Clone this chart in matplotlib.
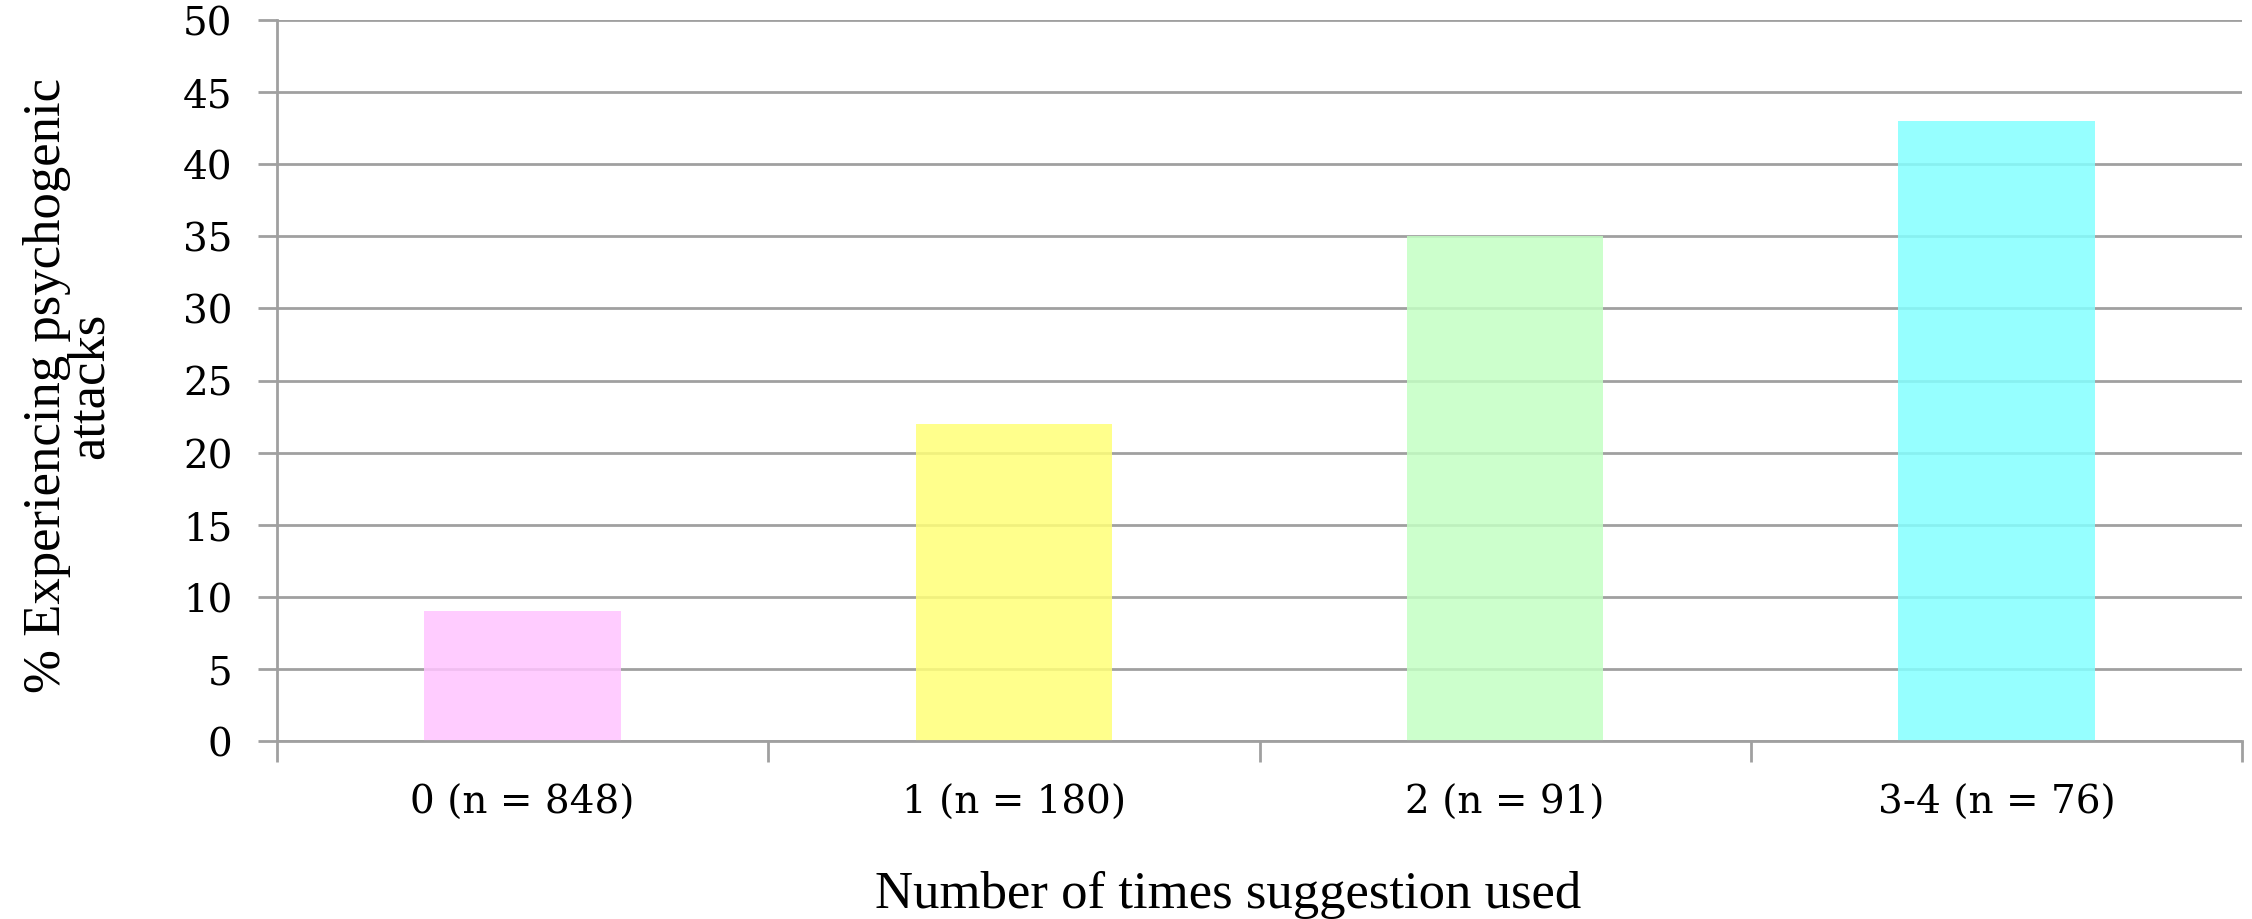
import numpy as np
import matplotlib.pyplot as plt

categories = ["0 (n = 848)", "1 (n = 180)", "2 (n = 91)", "3-4 (n = 76)"]
percent = [9, 22, 35, 43]
bar_colors = ["#FFC3FF", "#FFFF78", "#C3FFC3", "#84FFFF"]
y_ticks = list(range(0, 55, 5))

grid_col = "#A0A0A0"

fig = plt.figure(figsize=(22.52, 9.2), dpi=100)
ax = fig.add_axes([277 / 2252, 1 - 742 / 920, 1965 / 2252, 721 / 920])

x = np.arange(len(categories))
ax.bar(x, percent, width=0.4, color=bar_colors, alpha=0.85, zorder=2)

ax.set_xlim(-0.5, len(categories) - 0.5)
ax.set_ylim(0, 50)
ax.set_yticks(y_ticks)
ax.set_yticklabels([str(v) for v in y_ticks], family="DejaVu Serif", fontsize=28)
ax.yaxis.grid(True, color=grid_col, linewidth=2, zorder=1)
ax.set_axisbelow(True)

ax.set_xticks(x)
ax.set_xticklabels(categories, family="DejaVu Serif", fontsize=28)
ax.set_xticks(np.arange(len(categories) + 1) - 0.5, minor=True)
ax.tick_params(axis="x", which="major", length=0, pad=31)
ax.tick_params(axis="x", which="minor", length=15, width=2, color=grid_col)
ax.tick_params(axis="y", length=14, width=2, color=grid_col, pad=18)

for s in ["top", "right"]:
    ax.spines[s].set_visible(False)
for s in ["left", "bottom"]:
    ax.spines[s].set_color(grid_col)
    ax.spines[s].set_linewidth(2)

ax.set_xlabel("Number of times suggestion used", family="Liberation Serif", fontsize=38)
ax.xaxis.set_label_coords((1228 - 277) / 1965, -0.212)
ax.xaxis.label.set_va("center")

ax.set_ylabel("% Experiencing psychogenic\nattacks", family="Liberation Serif",
              fontsize=38, linespacing=0.85)
ax.yaxis.set_label_coords(-0.106, 0.494)
ax.yaxis.label.set_va("center")

fig.savefig("out.png", dpi=100)
